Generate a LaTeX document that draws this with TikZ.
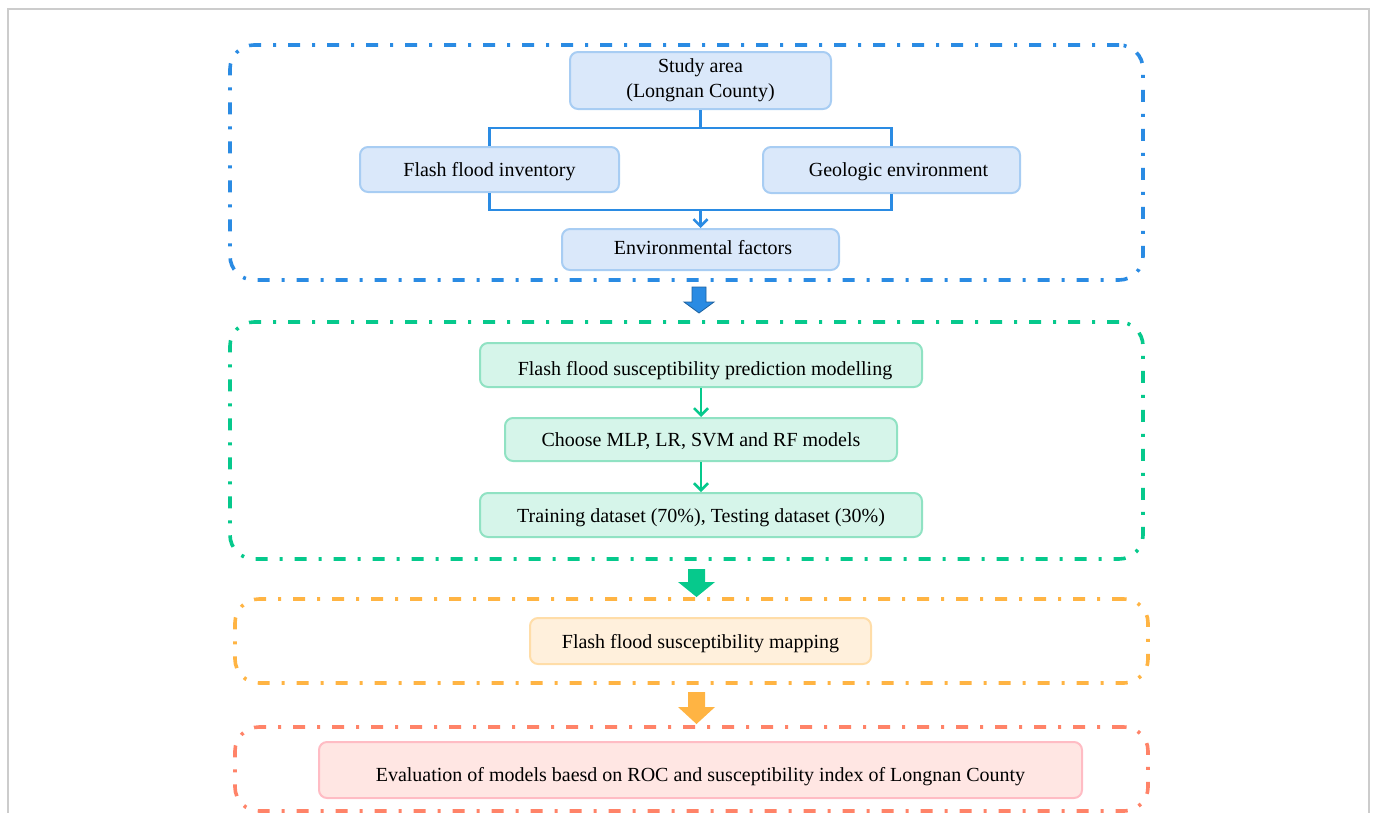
\documentclass[tikz,border=0pt]{standalone}
\usepackage{fontspec}
\setmainfont{Liberation Serif}
\usetikzlibrary{arrows.meta}
\definecolor{bline}{HTML}{2A8BE3}
\definecolor{bfill}{HTML}{DAE8FA}
\definecolor{bdraw}{HTML}{A8CDF3}
\definecolor{gline}{HTML}{06C98C}
\definecolor{gfill}{HTML}{D6F5EA}
\definecolor{gdraw}{HTML}{90E2C3}
\definecolor{oline}{HTML}{FFB443}
\definecolor{ofill}{HTML}{FFF0DC}
\definecolor{odraw}{HTML}{FFDDA8}
\definecolor{rline}{HTML}{FF8368}
\definecolor{rfill}{HTML}{FFE6E3}
\definecolor{rdraw}{HTML}{FFBCC4}
\definecolor{frame}{HTML}{CCCCCC}
\begin{document}
\begin{tikzpicture}[x=1pt,y=-1pt,
  outer/.style={draw=#1,line width=3.6pt,rounded corners=24pt,
     dash pattern=on 12pt off 12pt on 3pt off 12pt},
  inbox/.style n args={3}{draw=#1,fill=#2,line width=2pt,rounded corners=8pt,
     font=\fontsize{20}{25}\selectfont,align=center,inner sep=0pt,text=black},
  bl/.style={text depth=0pt,text height=#1},
  conn/.style={draw=#1,line width=2.8pt},
  tip/.style={-{Straight Barb[length=7pt,width=14pt,line width=2.6pt]}}
]
\useasboundingbox (0,0) rectangle (1375,812);
% grey frame
\draw[frame,line width=1.5pt] (8,830) -- (8,9) -- (1369,9) -- (1369,830);

% ---------- blue section ----------
\node[outer=bline,minimum width=913pt,minimum height=235pt] (secA) at (686.5,162.5) {};
\node[inbox={bdraw}{bfill}{},minimum width=261pt,minimum height=57pt] (study) at (700.5,80.5)
  {\raisebox{-3.5pt}{Study area}\\\raisebox{-3.5pt}{(Longnan County)}};
\node[inbox={bdraw}{bfill}{},bl=14pt,minimum width=259pt,minimum height=45pt] (inv) at (489.5,169.5)
  {Flash flood inventory};
\node[inbox={bdraw}{bfill}{},bl=13.4pt,minimum width=257pt,minimum height=46pt] (geo) at (891.5,170)
  {\hspace*{14pt}Geologic environment};
\node[inbox={bdraw}{bfill}{},bl=9pt,minimum width=277pt,minimum height=41pt] (env) at (700.5,249.5)
  {\hspace*{5pt}Environmental factors};
\coordinate (split) at (700.5,128);
\coordinate (merge) at (700.5,210);
\draw[conn=bline] (study.south) -- (split);
\draw[conn=bline] (inv.north) |- (split) -| (geo.north);
\draw[conn=bline] (inv.south) |- (merge) -| (geo.south);
\draw[conn=bline,tip] (merge) -- (env.north);

% blue block arrow
\filldraw[fill=bline,draw=bline!70!black,line width=0.8pt]
  (692,287) -- (706,287) -- (706,302) -- (714,302) -- (699,313) -- (684,302) -- (692,302) -- cycle;

% ---------- green section ----------
\node[outer=gline,minimum width=913pt,minimum height=237pt] (secB) at (686.5,440.5) {};
\node[inbox={gdraw}{gfill}{},bl=20pt,minimum width=442pt,minimum height=44pt] (model) at (701,365)
  {\hspace*{8pt}Flash flood susceptibility prediction modelling};
\node[inbox={gdraw}{gfill}{},bl=14pt,minimum width=392pt,minimum height=43pt] (choose) at (701,439.5)
  {Choose MLP, LR, SVM and RF models};
\node[inbox={gdraw}{gfill}{},bl=15.4pt,minimum width=442pt,minimum height=44pt] (train) at (701,515)
  {Training dataset (70\%), Testing dataset (30\%)};
\draw[conn=gline,tip] (model.south) -- (choose.north);
\draw[conn=gline,tip] (choose.south) -- (train.north);

% green block arrow
\fill[gline]
  (688,569) -- (705,569) -- (705,582) -- (715,582) -- (696.5,597) -- (678,582) -- (688,582) -- cycle;

% ---------- orange section ----------
\node[outer=oline,minimum width=913pt,minimum height=84pt] (secC) at (691.5,641) {};
\node[inbox={odraw}{ofill}{},bl=14.6pt,minimum width=341pt,minimum height=46pt] (map) at (700.5,641)
  {Flash flood susceptibility mapping};

% orange block arrow
\fill[oline]
  (688,692) -- (705,692) -- (705,707) -- (715,707) -- (696.5,724) -- (678,707) -- (688,707) -- cycle;

% ---------- red section ----------
\node[outer=rline,minimum width=913pt,minimum height=84pt] (secD) at (691.5,769) {};
\node[inbox={rdraw}{rfill}{},bl=23.4pt,minimum width=763pt,minimum height=56pt] (eval) at (700.5,770)
  {Evaluation of models baesd on ROC and susceptibility index of Longnan County};
\end{tikzpicture}
\end{document}
